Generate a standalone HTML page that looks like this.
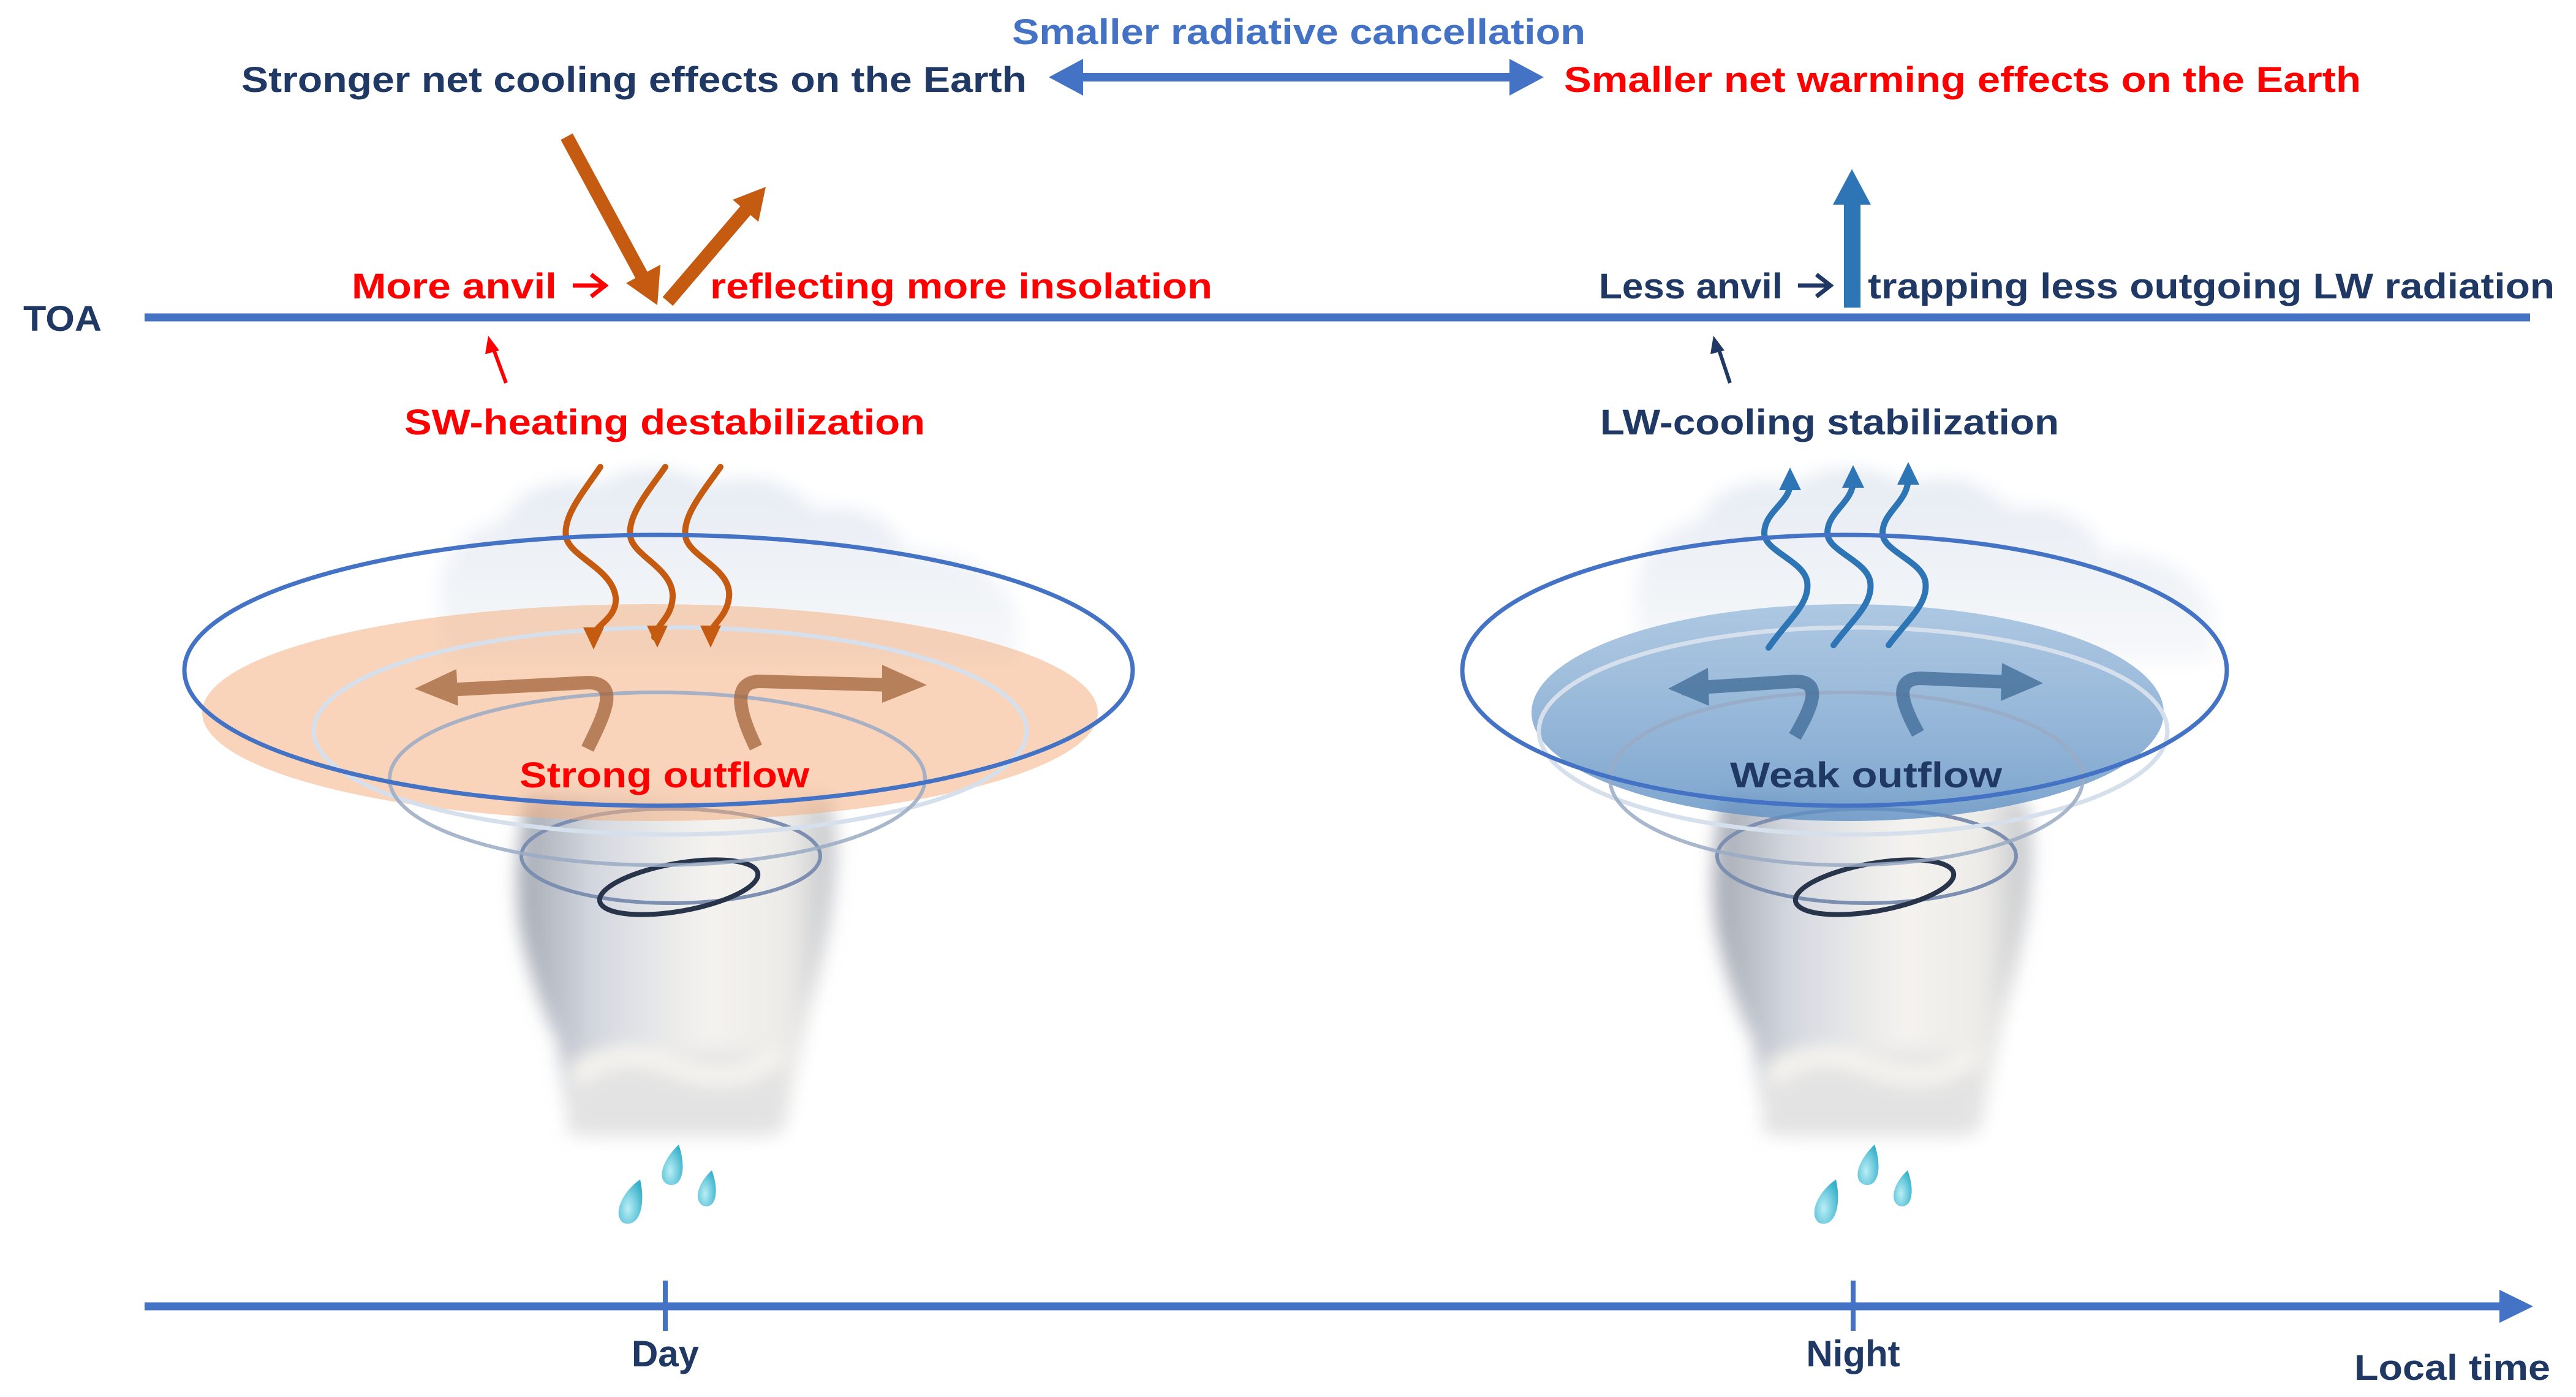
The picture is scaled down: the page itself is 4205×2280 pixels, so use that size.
<!DOCTYPE html>
<html><head><meta charset="utf-8"><style>
html,body{margin:0;padding:0;background:#fff;}
svg{display:block;}
text{font-family:"Liberation Sans",sans-serif;font-weight:bold;}
</style></head><body>
<svg width="4205" height="2280" viewBox="0 0 4205 2280" xmlns="http://www.w3.org/2000/svg">
<defs>
<filter id="blur" x="-20%" y="-20%" width="140%" height="140%"><feGaussianBlur stdDeviation="14"/></filter>
<linearGradient id="trunk" x1="0" x2="1" y1="0" y2="0">
<stop offset="0" stop-color="#a4a9b3"/><stop offset="0.25" stop-color="#d5d9e0"/><stop offset="0.6" stop-color="#f5f3ef"/><stop offset="0.85" stop-color="#ecebe8"/><stop offset="1" stop-color="#c3c5ca"/></linearGradient>
<linearGradient id="puff" x1="0" x2="0" y1="0" y2="1">
<stop offset="0" stop-color="#e6ecf3"/><stop offset="1" stop-color="#f7f8fa"/></linearGradient>
<linearGradient id="bluefill" x1="0" x2="0" y1="0" y2="1">
<stop offset="0" stop-color="#9dbddd"/><stop offset="1" stop-color="#5d8fc2"/></linearGradient>
<radialGradient id="drop" cx="0.4" cy="0.65" r="0.7"><stop offset="0" stop-color="#b8eef6"/><stop offset="1" stop-color="#36b0ca"/></radialGradient>
<g id="tornado">
  <g filter="url(#blur)">
    <path d="M720,1010 Q700,880 820,850 Q860,770 980,790 Q1060,740 1160,790 Q1260,760 1330,830 Q1450,820 1480,900 Q1620,900 1660,1000 L1660,1080 L720,1080 Z" fill="url(#puff)"/>
    <path d="M860,1300 Q835,1420 850,1520 Q870,1620 910,1700 L930,1850 L1280,1850 Q1300,1750 1320,1650 Q1360,1520 1365,1400 Q1365,1330 1350,1300 Z" fill="url(#trunk)"/>
    <rect x="925" y="1715" width="360" height="140" rx="40" fill="#e3e3e3"/>
    <path d="M940,1760 Q1000,1700 1100,1740 Q1200,1780 1270,1720" fill="none" stroke="#f7f5f0" stroke-width="30"/>
  </g>
  <ellipse cx="1095" cy="1397" rx="244" ry="77" fill="none" stroke="#7d8fb0" stroke-width="6"/>
  <ellipse cx="1108" cy="1448" rx="131" ry="39" fill="none" stroke="#283449" stroke-width="8" transform="rotate(-10 1108 1448)"/>
  <path d="M1108,1868 C1080,1895 1072,1925 1090,1933 C1112,1940 1122,1910 1108,1868 Z" fill="url(#drop)"/>
  <path d="M1162,1910 C1138,1932 1132,1960 1148,1968 C1168,1974 1175,1945 1162,1910 Z" fill="url(#drop)"/>
  <path d="M1045,1925 C1012,1948 1000,1985 1018,1996 C1042,2004 1055,1970 1045,1925 Z" fill="url(#drop)"/>
</g>
</defs>

<text x="1652" y="72" font-size="58" fill="#4472C4" textLength="936" lengthAdjust="spacingAndGlyphs">Smaller radiative cancellation</text>
<text x="394" y="150" font-size="58" fill="#1F3864" textLength="1282" lengthAdjust="spacingAndGlyphs">Stronger net cooling effects on the Earth</text>
<text x="2553" y="150" font-size="58" fill="#FF0000" textLength="1301" lengthAdjust="spacingAndGlyphs">Smaller net warming effects on the Earth</text>
<line x1="1760" y1="126" x2="2472" y2="126" stroke="#4472C4" stroke-width="14"/>
<polygon points="1712,126 1768,96 1768,156" fill="#4472C4"/>
<polygon points="2520,126 2464,96 2464,156" fill="#4472C4"/>

<text x="38" y="540" font-size="58" fill="#1F3864" textLength="128" lengthAdjust="spacingAndGlyphs">TOA</text>
<line x1="236" y1="518" x2="4130" y2="518" stroke="#4472C4" stroke-width="13"/>

<text x="574" y="487" font-size="58" fill="#FF0000" textLength="335" lengthAdjust="spacingAndGlyphs">More anvil</text>
<line x1="935" y1="466" x2="985" y2="466" stroke="#FF0000" stroke-width="7"/>
<polyline points="965,448 988,466 965,484" fill="none" stroke="#FF0000" stroke-width="7"/>
<text x="1159" y="487" font-size="58" fill="#FF0000" textLength="820" lengthAdjust="spacingAndGlyphs">reflecting more insolation</text>
<text x="2610" y="487" font-size="58" fill="#1F3864" textLength="300" lengthAdjust="spacingAndGlyphs">Less anvil</text>
<line x1="2935" y1="466" x2="2985" y2="466" stroke="#1F3864" stroke-width="7"/>
<polyline points="2965,448 2988,466 2965,484" fill="none" stroke="#1F3864" stroke-width="7"/>
<text x="3049" y="487" font-size="58" fill="#1F3864" textLength="1121" lengthAdjust="spacingAndGlyphs">trapping less outgoing LW radiation</text>

<line x1="925" y1="223" x2="1052" y2="458" stroke="#C55A11" stroke-width="22"/>
<polygon points="1073,498 1022,462 1078,432" fill="#C55A11"/>
<line x1="1090" y1="492" x2="1220" y2="340" stroke="#C55A11" stroke-width="22"/>
<polygon points="1250,305 1196,326 1238,362" fill="#C55A11"/>

<rect x="3010" y="330" width="27" height="172" fill="#2E75B6"/>
<polygon points="3023,276 2992,334 3054,334" fill="#2E75B6"/>

<line x1="826" y1="625" x2="805" y2="568" stroke="#FF0000" stroke-width="6"/>
<polygon points="797,548 792,578 815,572" fill="#FF0000"/>
<line x1="2824" y1="625" x2="2805" y2="568" stroke="#1F3864" stroke-width="6"/>
<polygon points="2797,548 2792,578 2815,572" fill="#1F3864"/>

<text x="660" y="709" font-size="58" fill="#FF0000" textLength="850" lengthAdjust="spacingAndGlyphs">SW-heating destabilization</text>
<text x="2612" y="709" font-size="58" fill="#1F3864" textLength="749" lengthAdjust="spacingAndGlyphs">LW-cooling stabilization</text>

<use href="#tornado"/>
<ellipse cx="1061" cy="1163" rx="731" ry="177" fill="#f4b183" opacity="0.55"/>
<ellipse cx="1094" cy="1193" rx="582" ry="169" fill="none" stroke="#d6e0ec" stroke-width="7"/>
<ellipse cx="1073" cy="1271" rx="437" ry="141" fill="none" stroke="#9aaac4" stroke-width="6" opacity="0.85"/>
<g fill="none" stroke="#C55A11" stroke-width="10" stroke-linecap="round">
<path d="M980,762 C955,800 915,845 925,880 C935,910 1000,930 1005,975 C1008,1010 970,1020 968,1040"/>
<path d="M1086,762 C1060,800 1020,845 1030,880 C1040,910 1100,930 1098,975 C1096,1010 1070,1020 1068,1040"/>
<path d="M1176,762 C1150,800 1110,845 1120,880 C1130,910 1195,930 1190,975 C1186,1010 1158,1020 1158,1040"/>
</g>
<polygon points="969,1060 952,1024 986,1024" fill="#C55A11"/>
<polygon points="1073,1057 1056,1021 1090,1021" fill="#C55A11"/>
<polygon points="1160,1057 1143,1021 1177,1021" fill="#C55A11"/>
<g opacity="0.75">
<path d="M959,1222 C990,1160 1010,1115 960,1114 L730,1126" fill="none" stroke="#a0643a" stroke-width="22"/>
<polygon points="677,1124 745,1092 748,1152" fill="#a0643a"/>
<path d="M1234,1220 C1205,1160 1195,1113 1240,1112 L1455,1118" fill="none" stroke="#a0643a" stroke-width="22"/>
<polygon points="1513,1118 1440,1085 1440,1147" fill="#a0643a"/>
</g>
<ellipse cx="1075" cy="1094" rx="774" ry="221" fill="none" stroke="#4472C4" stroke-width="7"/>
<text x="848" y="1285" font-size="58" fill="#FF0000" textLength="473" lengthAdjust="spacingAndGlyphs">Strong outflow</text>

<use href="#tornado" transform="translate(1952,0)"/>
<ellipse cx="3016" cy="1163" rx="516" ry="177" fill="url(#bluefill)" opacity="0.8"/>
<ellipse cx="3025" cy="1193" rx="513" ry="169" fill="none" stroke="#d6e0ec" stroke-width="7"/>
<ellipse cx="3014" cy="1271" rx="386" ry="141" fill="none" stroke="#9aaac4" stroke-width="6" opacity="0.85"/>
<g opacity="0.75">
<path d="M2930,1202 C2960,1150 2975,1112 2930,1112 L2745,1124" fill="none" stroke="#3e6a96" stroke-width="22"/>
<polygon points="2723,1124 2788,1090 2790,1152" fill="#3e6a96"/>
<path d="M3131,1197 C3105,1150 3090,1108 3135,1107 L3300,1114" fill="none" stroke="#3e6a96" stroke-width="22"/>
<polygon points="3335,1115 3268,1082 3266,1144" fill="#3e6a96"/>
</g>
<g fill="none" stroke="#2E75B6" stroke-width="10" stroke-linecap="round">
<path d="M2887,1057 C2920,1010 2955,985 2950,950 C2945,915 2880,900 2880,870 C2880,835 2922,820 2922,790"/>
<path d="M2993,1053 C3025,1010 3058,985 3053,950 C3048,915 2983,900 2983,870 C2983,835 3025,820 3025,785"/>
<path d="M3083,1053 C3115,1010 3148,985 3143,950 C3138,915 3073,900 3073,870 C3073,835 3115,820 3115,780"/>
</g>
<polygon points="2922,763 2904,800 2940,800" fill="#2E75B6"/>
<polygon points="3025,759 3007,796 3043,796" fill="#2E75B6"/>
<polygon points="3115,754 3097,791 3133,791" fill="#2E75B6"/>
<ellipse cx="3011" cy="1094" rx="624" ry="221" fill="none" stroke="#4472C4" stroke-width="7"/>
<text x="2824" y="1285" font-size="58" fill="#1F3864" textLength="444" lengthAdjust="spacingAndGlyphs">Weak outflow</text>

<line x1="236" y1="2132" x2="4090" y2="2132" stroke="#4472C4" stroke-width="13"/>
<polygon points="4135,2132 4080,2105 4080,2159" fill="#4472C4"/>
<line x1="1086" y1="2090" x2="1086" y2="2172" stroke="#4472C4" stroke-width="8"/>
<line x1="3025" y1="2090" x2="3025" y2="2172" stroke="#4472C4" stroke-width="8"/>
<text x="1086" y="2230" font-size="60" fill="#1F3864" text-anchor="middle">Day</text>
<text x="3025" y="2230" font-size="60" fill="#1F3864" text-anchor="middle">Night</text>
<text x="3843" y="2252" font-size="58" fill="#1F3864" textLength="320" lengthAdjust="spacingAndGlyphs">Local time</text>
</svg>
</body></html>
